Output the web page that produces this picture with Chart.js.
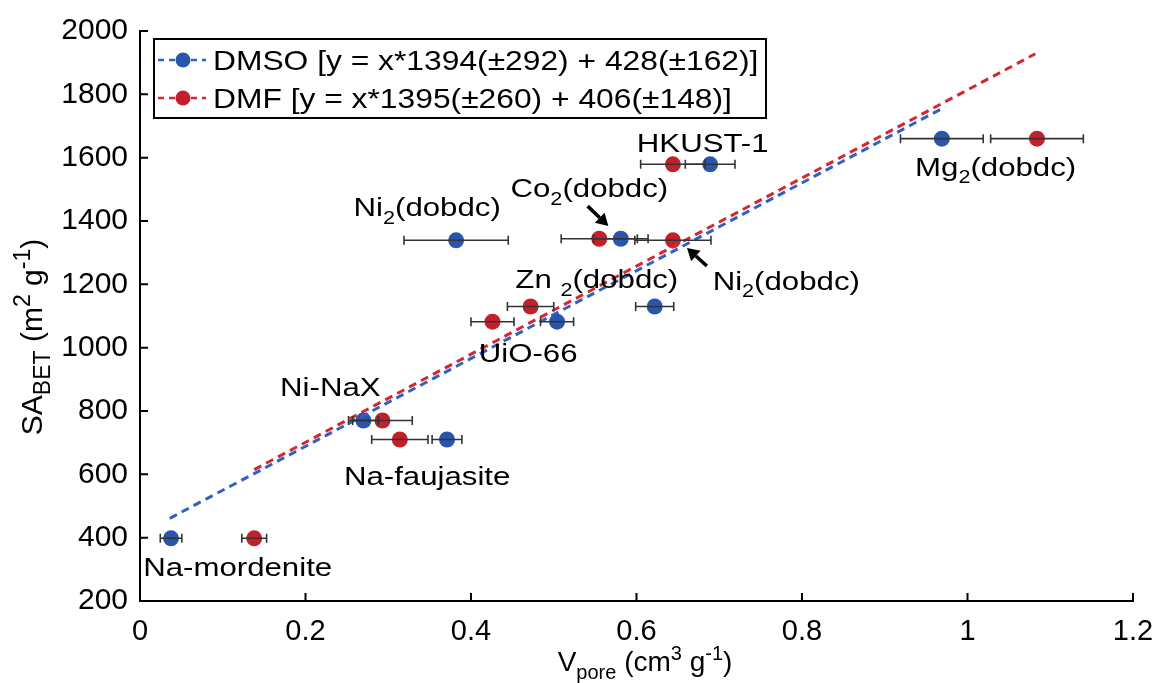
<!DOCTYPE html>
<html>
<head>
<meta charset="utf-8">
<script src="https://cdn.jsdelivr.net/npm/chart.js@4/dist/chart.umd.min.js"></script>
<style>
  body { margin: 0; background: #fff; }
  #wrap { width: 1153px; height: 683px; }
</style>
</head>
<body>
<div id="wrap"><canvas id="chart" width="1153" height="683"></canvas></div>
<script>
// material order is shared by all arrays below
const materials = ['Na-mordenite', 'Ni-NaX', 'Na-faujasite', 'UiO-66', 'Zn2(dobdc)', 'Ni2(dobdc)', 'Co2(dobdc)', 'HKUST-1', 'Mg2(dobdc)'];
const saBet   = [398, 770, 710, 1082, 1130, 1339, 1344, 1579, 1660];
const vDmso   = [0.0375, 0.270, 0.371, 0.504, 0.622, 0.382, 0.581, 0.689, 0.969];
const errDmso = [0.013, 0.018, 0.018, 0.020, 0.023, 0.063, 0.033, 0.030, 0.050];
const vDmf    = [0.138, 0.293, 0.314, 0.426, 0.472, 0.644, 0.555, 0.644, 1.084];
const errDmf  = [0.015, 0.036, 0.034, 0.026, 0.028, 0.046, 0.046, 0.039, 0.056];

// fitted lines, end points as drawn
const fitDmsoX = [0.036, 0.967];
const fitDmsoY = [461, 1752];
const fitDmfX  = [0.138, 1.082];
const fitDmfY  = [615, 1928];

const xTicks = [0, 0.2, 0.4, 0.6, 0.8, 1, 1.2];
const yTicks = [200, 400, 600, 800, 1000, 1200, 1400, 1600, 1800, 2000];

const legendLabels = ['DMSO [y = x*1394(\u00b1292) + 428(\u00b1162)]', 'DMF [y = x*1395(\u00b1260) + 406(\u00b1148)]'];

// point labels: text pieces ('n' normal, 'sub'), centre in data units
const labelParts = [
  [['Na-mordenite', 'n']],
  [['Ni-NaX', 'n']],
  [['Na-faujasite', 'n']],
  [['UiO-66', 'n']],
  [['Zn ', 'n'], ['2', 'sub'], ['(dobdc)', 'n']],
  [['Ni', 'n'], ['2', 'sub'], ['(dobdc)', 'n']],
  [['Co', 'n'], ['2', 'sub'], ['(dobdc)', 'n']],
  [['HKUST-1', 'n']],
  [['Mg', 'n'], ['2', 'sub'], ['(dobdc)', 'n']],
  [['Ni', 'n'], ['2', 'sub'], ['(dobdc)', 'n']]
];
const labelX = [0.118, 0.230, 0.347, 0.469, 0.552, 0.347, 0.543, 0.680, 1.034, 0.781];
const labelY = [310, 877, 597, 984, 1217, 1444, 1504, 1649, 1573, 1211];

// arrows from label to point (data units)
const arrowFromX = [0.541, 0.685];
const arrowFromY = [1447, 1258];
const arrowToX   = [0.566, 0.661];
const arrowToY   = [1384, 1315];

const BLUE = '#2a55ad';
const RED = '#c4202b';
const BLUE_LINE = '#3160c2';
const RED_LINE = '#d4272f';
const FONT = '"Liberation Sans", Arial, sans-serif';

// draws text pieces with sub/superscripts; k stretches horizontally
function drawRich(ctx, parts, x, cy, size, align, k = 1, subScale = 0.68) {
  const small = Math.round(size * subScale);
  const widths = parts.map(([t, m]) => {
    ctx.font = (m === 'n' ? size : small) + 'px ' + FONT;
    return ctx.measureText(t).width;
  });
  const total = widths.reduce((a, b) => a + b, 0) * k;
  const x0 = align === 'center' ? x - total / 2 : x;
  ctx.save();
  ctx.translate(x0, cy + size * 0.36);
  ctx.scale(k, 1);
  ctx.textAlign = 'left';
  ctx.textBaseline = 'alphabetic';
  let cx = 0;
  parts.forEach(([t, m], i) => {
    ctx.font = (m === 'n' ? size : small) + 'px ' + FONT;
    let dy = 0;
    if (m === 'sub') dy = size * 0.28;
    if (m === 'sup') dy = -size * 0.38;
    ctx.fillText(t, cx, dy);
    cx += widths[i];
  });
  ctx.restore();
}

const extras = {
  id: 'extras',
  afterDatasetsDraw(chart) {
    const ctx = chart.ctx;
    const xs = chart.scales.x, ys = chart.scales.y;
    ctx.save();
    // horizontal error bars
    ctx.strokeStyle = '#333';
    ctx.lineWidth = 1.6;
    const bars = (vs, es) => {
      vs.forEach((v, i) => {
        const y = ys.getPixelForValue(saBet[i]);
        const x1 = xs.getPixelForValue(v - es[i]);
        const x2 = xs.getPixelForValue(v + es[i]);
        ctx.beginPath();
        ctx.moveTo(x1, y); ctx.lineTo(x2, y);
        ctx.moveTo(x1, y - 4.5); ctx.lineTo(x1, y + 4.5);
        ctx.moveTo(x2, y - 4.5); ctx.lineTo(x2, y + 4.5);
        ctx.stroke();
      });
    };
    bars(vDmso, errDmso);
    bars(vDmf, errDmf);

    // inward tick marks
    ctx.strokeStyle = '#000';
    ctx.lineWidth = 2;
    const area = chart.chartArea;
    ctx.beginPath();
    xTicks.forEach(t => {
      const px = xs.getPixelForValue(t);
      ctx.moveTo(px, area.bottom); ctx.lineTo(px, area.bottom - 8);
    });
    yTicks.forEach(t => {
      const py = ys.getPixelForValue(t);
      ctx.moveTo(area.left, py); ctx.lineTo(area.left + 8, py);
    });
    ctx.stroke();

    // point labels
    ctx.fillStyle = '#000';
    labelParts.forEach((p, i) => {
      drawRich(ctx, p, xs.getPixelForValue(labelX[i]), ys.getPixelForValue(labelY[i]), 26, 'center', 1.2);
    });

    // arrows
    arrowFromX.forEach((fx, i) => {
      const x1 = xs.getPixelForValue(fx), y1 = ys.getPixelForValue(arrowFromY[i]);
      const x2 = xs.getPixelForValue(arrowToX[i]), y2 = ys.getPixelForValue(arrowToY[i]);
      const a = Math.atan2(y2 - y1, x2 - x1);
      const hl = 12, hw = 7;
      const bx = x2 - hl * Math.cos(a), by = y2 - hl * Math.sin(a);
      ctx.beginPath();
      ctx.lineWidth = 3.5;
      ctx.moveTo(x1, y1); ctx.lineTo(bx, by);
      ctx.stroke();
      ctx.beginPath();
      ctx.moveTo(x2, y2);
      ctx.lineTo(bx + hw * Math.sin(a), by - hw * Math.cos(a));
      ctx.lineTo(bx - hw * Math.sin(a), by + hw * Math.cos(a));
      ctx.closePath();
      ctx.fill();
    });

    // legend box
    ctx.lineWidth = 2;
    ctx.strokeRect(154, 39, 612, 79);
    const rows = [[BLUE, BLUE_LINE, 60], [RED, RED_LINE, 98]];
    rows.forEach(([dot, line, y], i) => {
      ctx.strokeStyle = line;
      ctx.lineWidth = 2.5;
      ctx.setLineDash([6, 5]);
      ctx.beginPath();
      ctx.moveTo(158, y); ctx.lineTo(206, y);
      ctx.stroke();
      ctx.setLineDash([]);
      ctx.fillStyle = dot;
      ctx.beginPath();
      ctx.arc(183, y, 7.5, 0, Math.PI * 2);
      ctx.fill();
      ctx.fillStyle = '#000';
      drawRich(ctx, [[legendLabels[i], 'n']], 213, y, 28, 'left', 1.135);
    });

    // axis titles
    drawRich(ctx, [['V', 'n'], ['pore', 'sub'], [' (cm', 'n'], ['3', 'sup'], [' g', 'n'], ['-1', 'sup'], [')', 'n']], 645, 661, 28, 'center', 1, 0.7);
    ctx.translate(31, 337);
    ctx.rotate(-Math.PI / 2);
    drawRich(ctx, [['SA', 'n'], ['BET', 'sub'], [' (m', 'n'], ['2', 'sup'], [' g', 'n'], ['-1', 'sup'], [')', 'n']], 0, 0, 30, 'center', 1, 0.78);
    ctx.restore();
  }
};

const toPts = (xv, yv) => xv.map((x, i) => ({ x: x, y: yv[i] }));

new Chart(document.getElementById('chart'), {
  type: 'scatter',
  data: {
    datasets: [
      { label: 'DMSO fit', data: toPts(fitDmsoX, fitDmsoY), showLine: true, borderColor: BLUE_LINE,
        borderWidth: 3, borderDash: [8, 5.5], pointRadius: 0 },
      { label: 'DMF fit', data: toPts(fitDmfX, fitDmfY), showLine: true, borderColor: RED_LINE,
        borderWidth: 3, borderDash: [8, 5.5], pointRadius: 0 },
      { label: 'DMSO', data: toPts(vDmso, saBet), backgroundColor: BLUE, borderWidth: 0, pointRadius: 8 },
      { label: 'DMF', data: toPts(vDmf, saBet), backgroundColor: RED, borderWidth: 0, pointRadius: 8 }
    ]
  },
  options: {
    responsive: false,
    animation: false,
    layout: { padding: { top: 31, right: 20, left: 0, bottom: 0 } },
    plugins: { legend: { display: false }, tooltip: { enabled: false } },
    scales: {
      x: {
        min: 0, max: 1.2,
        afterBuildTicks: s => { s.ticks = xTicks.map(v => ({ value: v })); },
        afterFit: s => { s.height = 82; s.paddingLeft = 0; s.paddingRight = 0; },
        grid: { display: false, drawTicks: false },
        border: { color: '#000', width: 2 },
        ticks: { color: '#000', padding: 14, font: { size: 29, family: FONT }, maxRotation: 0,
                 callback: v => String(Math.round(v * 10) / 10) }
      },
      y: {
        min: 200, max: 2000,
        afterBuildTicks: s => { s.ticks = yTicks.map(v => ({ value: v })); },
        afterFit: s => { s.width = 140; s.paddingTop = 0; s.paddingBottom = 0; },
        grid: { display: false, drawTicks: false },
        border: { color: '#000', width: 2 },
        ticks: { color: '#000', padding: 12, font: { size: 30, family: FONT },
                 callback: v => String(v) }
      }
    }
  },
  plugins: [extras]
});
</script>
</body>
</html>
